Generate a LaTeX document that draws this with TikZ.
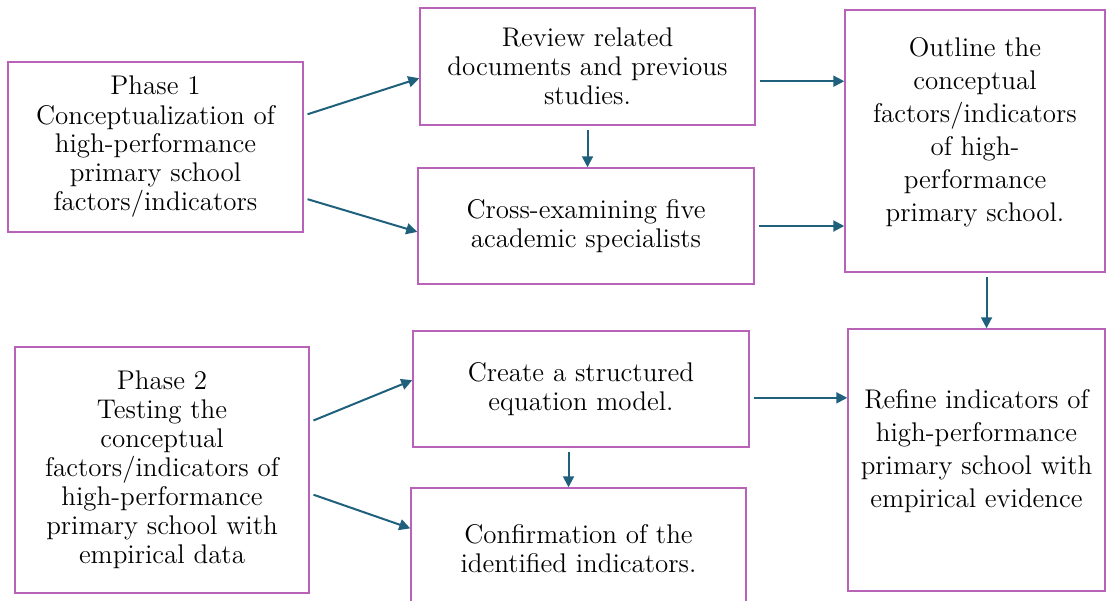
\documentclass[tikz,border=0pt]{standalone}
\usepackage{tikz}
\usetikzlibrary{arrows.meta}
\definecolor{boxline}{RGB}{184,98,184}
\definecolor{arrowline}{RGB}{31,96,124}

\begin{document}
\begin{tikzpicture}[x=0.5pt,y=-0.5pt]
\useasboundingbox (0,0) rectangle (1106,600);
\begin{scope}[every node/.style={draw=boxline,line width=0.75pt,align=center,inner sep=2pt,
                                 font=\fontsize{13.5}{14.5}\selectfont}]
    \node[minimum width=147.5pt,minimum height=85pt] (p1) at (155.5,147)
    {Phase 1\\Conceptualization of\\high-performance\\primary school\\factors/indicators};
    \node[minimum width=167.5pt,minimum height=58.5pt] (review) at (587.5,66.5)
    {Review related\\documents and previous\\studies.};
    \node[minimum width=168pt,minimum height=58pt] (cross) at (586,226)
    {Cross-examining five\\academic specialists};
    % text sits high in the two tall boxes
    \node[minimum width=130pt,minimum height=131pt,font=\fontsize{13.5}{16.5}\selectfont] (outline) at (975,141)
    {Outline the\\conceptual\\factors/indicators\\of high-\\performance\\primary school.\\[-5pt]};
    \node[minimum width=147pt,minimum height=123pt] (p2) at (162,470)
    {Phase 2\\Testing the\\conceptual\\factors/indicators of\\high-performance\\primary school with\\empirical data};
    \node[minimum width=168pt,minimum height=58pt] (sem) at (581,389)
    {Create a structured\\equation model.};
    % bottom edge runs off the page
    \node[minimum width=167.5pt,minimum height=61pt] (confirm) at (578.5,549)
    {Confirmation of the\\identified indicators.};
    \node[minimum width=128.5pt,minimum height=131pt,font=\fontsize{13.5}{16.5}\selectfont] (refine) at (976.5,460)
    {Refine indicators of\\high-performance\\primary school with\\empirical evidence\\[-5pt]};
\end{scope}
% \begin{scope}[>={Stealth[arrowline]},
\begin{scope}[>={Triangle[length=5.5pt,width=5.5pt]},
              every edge/.style={draw=arrowline,line width=1pt,shorten <=2pt}]
    \path [->] (p1.12) edge (review.184);
    \path [->] (p1.341) edge (cross.182);
    \path [->] (review.south) edge (review.south |- cross.north);
    \path [->] (review.-5) edge (review.-5 -| outline.west);
    \path [->] (cross.east) edge (cross.east -| outline.west);
    \path [->] (outline.-85) edge (outline.-85 |- refine.north);
    \path [->] (p2.18) edge (sem.177);
    \path [->] (p2.351) edge (confirm.173);
    \path [->] (sem.-3) edge (sem.-3 -| refine.west);
    \path [->] (sem.-102) edge (sem.-102 |- confirm.north);
\end{scope}
\end{tikzpicture}
\end{document}
